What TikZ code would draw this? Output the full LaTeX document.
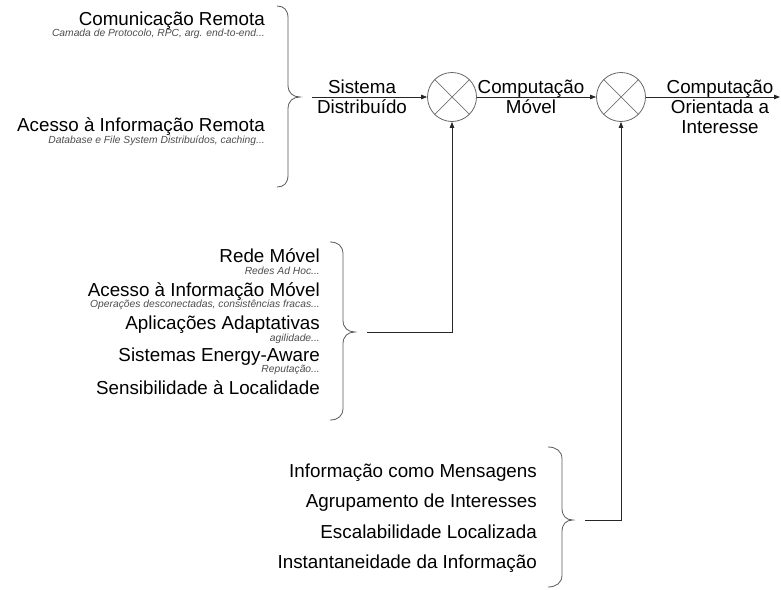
\documentclass[tikz,border=0pt]{standalone}
\usepackage{fontspec}
\setmainfont{Liberation Sans}
\usetikzlibrary{arrows.meta}
\begin{document}
\begin{tikzpicture}[x=1pt,y=-1pt,
  big/.style={font=\fontsize{18.8}{20}\selectfont, inner sep=0pt, text=black},
  small/.style={font=\fontsize{10.3}{11}\selectfont\itshape, inner sep=0pt, text=black!70},
  item/.style={big, anchor=base east},
  note/.style={small, anchor=base east},
  lbl/.style={big, anchor=base},
  mixer/.style={circle, draw=black!60, line width=0.8pt, minimum size=49pt, inner sep=0pt},
  xline/.style={draw=black!55, line width=0.7pt},
  wire/.style={draw=black!85, line width=0.8pt},
  arr/.style={wire, -{Triangle[length=6pt,width=4.5pt]}},
  brace/.style={draw=black!65, line width=0.8pt},
]
\useasboundingbox (0,0) rectangle (781,589);

% braces
\draw[brace] (277,6) .. controls (284,6) and (288,10) .. (288,18) -- (288,85) .. controls (288,93) and (293,97) .. (300,97) .. controls (293,97) and (288,101) .. (288,109) -- (288,175) .. controls (288,183) and (284,187) .. (277,187);
\draw[brace] (330,242) .. controls (338,242) and (343,246) .. (343,254) -- (343,320) .. controls (343,328) and (348,332) .. (355,332) .. controls (348,332) and (343,336) .. (343,344) -- (343,408) .. controls (343,416) and (338,420) .. (330,420);
\draw[brace] (548,447) .. controls (556,447) and (562,451) .. (562,459) -- (562,508) .. controls (562,516) and (566,520) .. (573,520) .. controls (566,520) and (562,524) .. (562,532) -- (562,575) .. controls (562,583) and (556,587) .. (548,587);

% mixers
\node[mixer] (m1) at (452,97) {};
\node[mixer] (m2) at (621,97) {};
\draw[xline] (m1.north west) -- (m1.south east) (m1.north east) -- (m1.south west);
\draw[xline] (m2.north west) -- (m2.south east) (m2.north east) -- (m2.south west);

% connectors
\coordinate (s1) at (312,97);
\coordinate (out) at (780,97);
\coordinate (b1) at (367,332);
\coordinate (b2) at (585,520);
\draw[arr] (s1) -- (m1.west);
\draw[arr] (m1.east) -- (m2.west);
\draw[arr] (m2.east) -- (out);
\draw[arr] (b1) -| (m1.south);
\draw[arr] (b2) -| (m2.south);

% labels on the main line
\node[lbl] (sd1) at (362,93) {Sistema};
\node[lbl] (sd2) at (362,113) {Distribuído};
\node[lbl] (cm1) at (531,93) {Computação};
\node[lbl] (cm2) at (531,113) {Móvel};
\node[lbl] (co1) at (720,93) {Computação};
\node[lbl] (co2) at (720,113) {Orientada a};
\node[lbl] (co3) at (720,133) {Interesse};

% top group
\node[item] (t1) at (265,25) {Comunicação Remota};
\node[note] (t1n) at (265,36) {Camada de Protocolo, RPC, arg. end-to-end...};
\node[item] (t2) at (265,131) {Acesso à Informação Remota};
\node[note] (t2n) at (265,143) {Database e File System Distribuídos, caching...};

% middle group
\node[item] (r1) at (320,262) {Rede Móvel};
\node[note] (r1n) at (320,274) {Redes Ad Hoc...};
\node[item] (r2) at (320,296) {Acesso à Informação Móvel};
\node[note] (r2n) at (320,307) {Operações desconectadas, consistências fracas...};
\node[item] (r3) at (320,329) {Aplicações Adaptativas};
\node[note] (r3n) at (320,341) {agilidade...};
\node[item] (r4) at (320,361) {Sistemas Energy-Aware};
\node[note] (r4n) at (320,372) {Reputação...};
\node[item] (r5) at (320,394) {Sensibilidade à Localidade};

% bottom group
\node[item] (i1) at (537,477) {Informação como Mensagens};
\node[item] (i2) at (537,507) {Agrupamento de Interesses};
\node[item] (i3) at (537,538) {Escalabilidade Localizada};
\node[item] (i4) at (537,568) {Instantaneidade da Informação};
\end{tikzpicture}
\end{document}
